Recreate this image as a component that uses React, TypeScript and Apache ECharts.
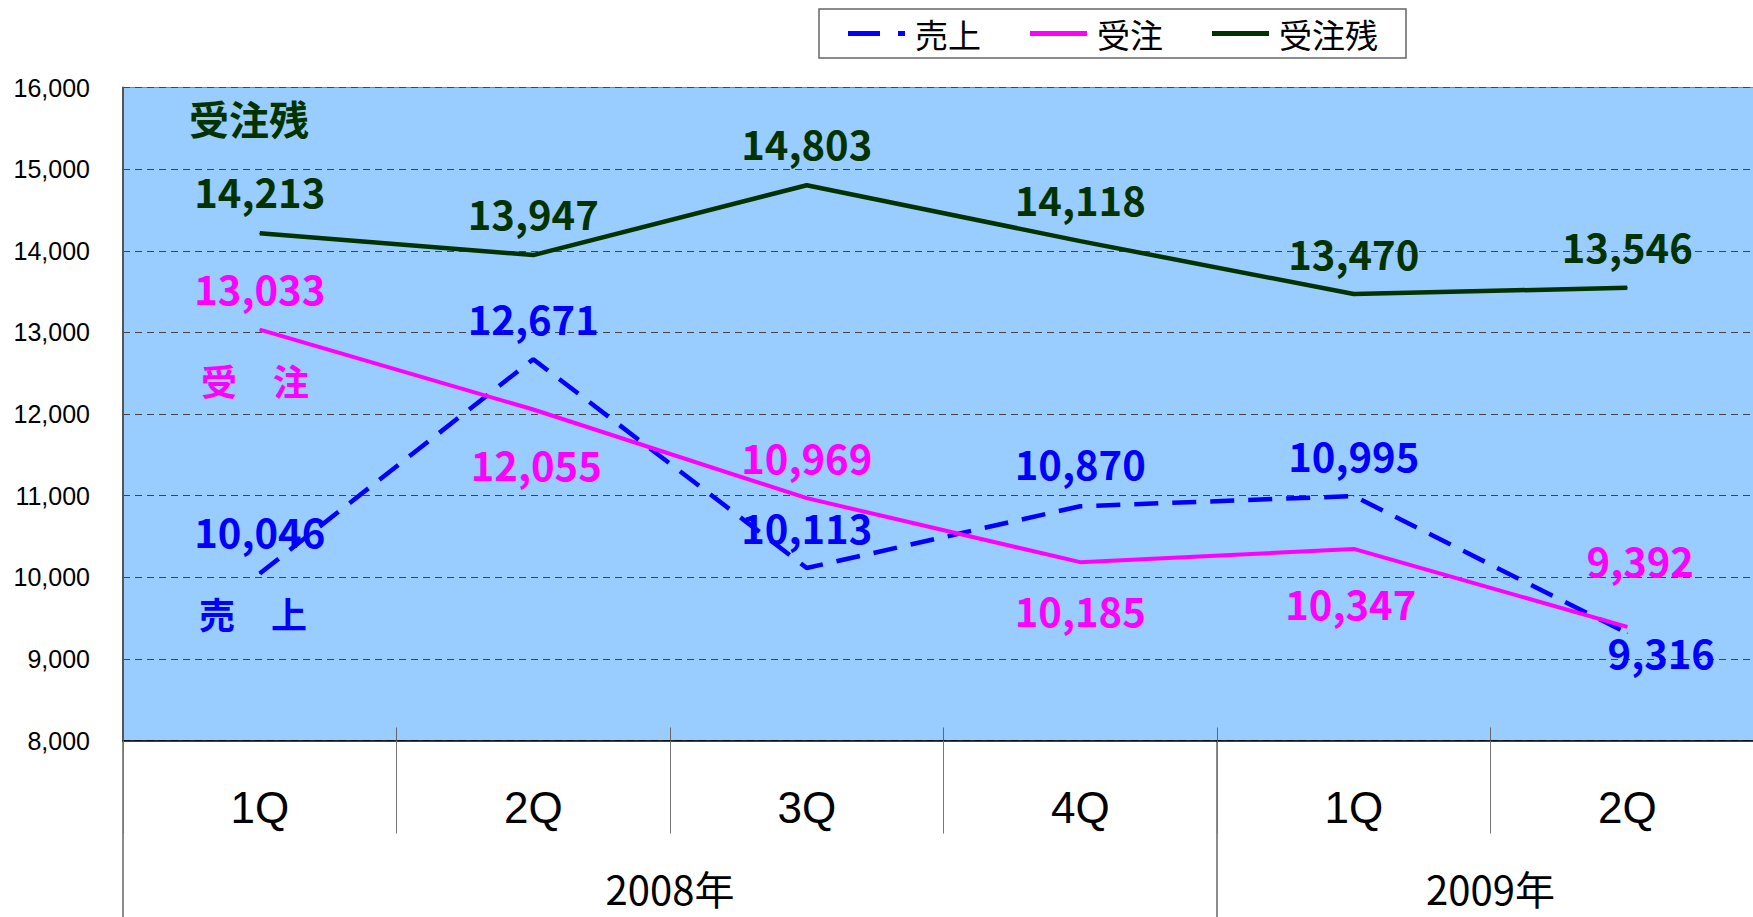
import React, { useEffect, useRef } from 'react';
import * as echarts from 'echarts';

const quarters = ['1Q', '2Q', '3Q', '4Q', '1Q', '2Q'];
const years = ['2008年', '2009年'];
const yearSpans = [4, 2];
const seriesNames = ['売上', '受注', '受注残'];
const sales = [10046, 12671, 10113, 10870, 10995, 9316];
const orders = [13033, 12055, 10969, 10185, 10347, 9392];
const backlog = [14213, 13947, 14803, 14118, 13470, 13546];
const yMin = 8000;
const yMax = 16000;
const yStep = 1000;

const salesLabelOffset = [[0, -42], [0, -41], [0, -41], [0, -43], [0, -41], [34, 19]];
const ordersLabelOffset = [[0, -42], [3, 54], [0, -41], [0, 48], [-3, 54], [13, -67]];
const backlogLabelOffset = [[0, -42], [0, -42], [0, -42], [0, -42], [0, -41], [0, -42]];

const FONT = '"Noto Sans CJK JP", "Noto Sans", sans-serif';
const LATIN = '"Liberation Sans", "Noto Sans CJK JP", sans-serif';
const BLUE = '#0000FF';
const MAGENTA = '#FF00FF';
const GREEN = '#003300';

const fmt = (v: number) => v.toLocaleString('en-US');

export default function App() {
  const ref = useRef<HTMLDivElement>(null);
  useEffect(() => {
    if (!ref.current) return;
    const chart = echarts.init(ref.current, null, { renderer: 'svg' });

    const boundaries: number[] = [0];
    const centers: number[] = [];
    yearSpans.forEach((s) => {
      const start = boundaries[boundaries.length - 1];
      centers.push(start + s / 2);
      boundaries.push(start + s);
    });
    const innerBounds = quarters.map((_, i) => i).filter((i) => i > 0);

    const mkData = (vals: number[], offs: number[][]) =>
      vals.map((v, i) => ({ value: v, label: { offset: offs[i] } }));

    const mkLabel = (color: string) => ({
      show: true,
      position: 'inside',
      color,
      fontSize: 40,
      fontWeight: 'bold',
      fontFamily: FONT,
      formatter: (p: any) => fmt(p.value),
    });

    chart.setOption({
      animation: false,
      textStyle: { fontFamily: FONT },
      legend: {
        left: 819,
        top: 9,
        backgroundColor: '#fff',
        borderColor: '#666',
        borderWidth: 1.5,
        padding: [8, 28, 8, 29],
        itemGap: 49,
        itemWidth: 57,
        itemHeight: 5,
        textStyle: { fontSize: 33, color: '#000', fontFamily: FONT, padding: [0, 0, 0, 5] },
        data: [
          { name: seriesNames[0], icon: 'path://M0,0h32v5h-32z M50,0h7v5h-7z' },
          { name: seriesNames[1], icon: 'path://M0,0h57v5h-57z' },
          { name: seriesNames[2], icon: 'path://M0,0h57v5h-57z' },
        ],
      },
      grid: {
        left: 123,
        top: 87.5,
        height: 653,
        width: 1641,
        outerBoundsMode: 'none',
        containLabel: false,
        show: true,
        backgroundColor: '#99CCFF',
        borderColor: '#888',
        borderWidth: 1,
      },
      xAxis: [
        {
          type: 'category',
          data: quarters,
          boundaryGap: true,
          axisLine: { show: true, lineStyle: { color: '#000', width: 1.5 } },
          axisTick: { show: true, interval: 0, length: 93, lineStyle: { color: '#777', width: 1 } },
          axisLabel: { interval: 0, fontSize: 44, color: '#000', margin: 45, fontFamily: LATIN },
          splitLine: { show: false },
          z: 5,
        },
        {
          type: 'value',
          min: 0,
          max: quarters.length,
          interval: 1,
          position: 'bottom',
          axisLine: { show: false },
          splitLine: { show: false },
          axisTick: {
            show: true,
            customValues: [boundaries[0], ...boundaries.slice(1, -1)],
            length: 177,
            lineStyle: { color: '#666', width: 1.5 },
          },
          axisLabel: {
            show: true,
            customValues: centers,
            fontSize: 40,
            lineHeight: 34,
            color: '#000',
            margin: 130,
            fontFamily: FONT,
            formatter: (v: number) => {
              const i = centers.indexOf(v);
              return i >= 0 ? years[i] : '';
            },
          },
        },
        {
          type: 'value',
          min: 0,
          max: quarters.length,
          interval: 1,
          position: 'bottom',
          axisLine: { show: false },
          splitLine: { show: false },
          axisTick: {
            show: true,
            inside: true,
            customValues: innerBounds,
            length: 13,
            lineStyle: { color: '#666', width: 1 },
          },
          axisLabel: { show: false },
        },
      ],
      yAxis: {
        type: 'value',
        min: yMin,
        max: yMax,
        interval: yStep,
        axisLine: { show: true, lineStyle: { color: '#555', width: 2 } },
        axisTick: { show: false },
        axisLabel: { fontSize: 25, color: '#000', margin: 33, fontFamily: LATIN, formatter: (v: number) => fmt(v) },
        splitLine: { show: true, lineStyle: { color: '#444', type: [7, 5], width: 1 } },
      },
      graphic: [
        { type: 'text', left: 189, top: 98, style: { text: '受注残', fill: GREEN, fontSize: 40, fontWeight: 'bold', fontFamily: FONT } },
        { type: 'text', left: 201, top: 362, style: { text: '受　注', fill: MAGENTA, fontSize: 36, fontWeight: 'bold', fontFamily: FONT } },
        { type: 'text', left: 199, top: 595, style: { text: '売　上', fill: BLUE, fontSize: 36, fontWeight: 'bold', fontFamily: FONT } },
      ],
      series: [
        {
          name: seriesNames[0],
          type: 'line',
          data: mkData(sales, salesLabelOffset),
          symbol: 'circle',
          symbolSize: 1,
          itemStyle: { color: BLUE },
          lineStyle: { color: BLUE, width: 4.5, type: [24, 14] },
          label: mkLabel(BLUE),
          z: 3,
        },
        {
          name: seriesNames[1],
          type: 'line',
          data: mkData(orders, ordersLabelOffset),
          symbol: 'circle',
          symbolSize: 1,
          itemStyle: { color: MAGENTA },
          lineStyle: { color: MAGENTA, width: 4 },
          label: mkLabel(MAGENTA),
          z: 4,
        },
        {
          name: seriesNames[2],
          type: 'line',
          data: mkData(backlog, backlogLabelOffset),
          symbol: 'circle',
          symbolSize: 1,
          itemStyle: { color: GREEN },
          lineStyle: { color: GREEN, width: 4.5 },
          label: mkLabel(GREEN),
          z: 4,
        },
      ],
    });
    return () => chart.dispose();
  }, []);
  return (
    <div
      ref={ref}
      style={{ position: 'fixed', left: 0, top: 0, width: 1753, height: 917, background: '#fff' }}
    />
  );
}
